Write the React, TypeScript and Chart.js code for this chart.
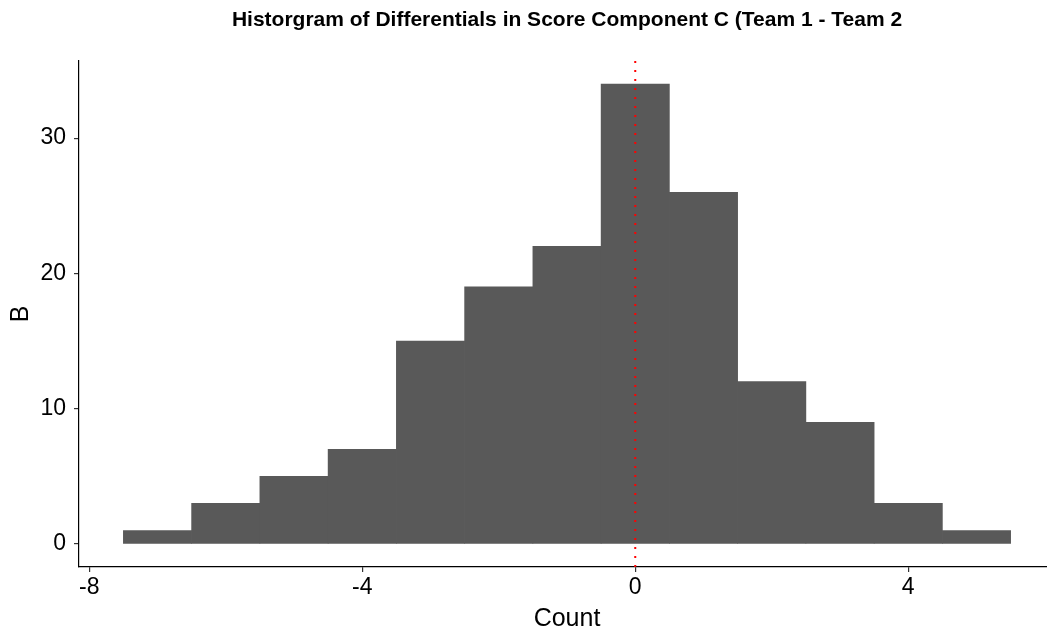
import React, { useEffect, useRef } from "react";
import { Chart, registerables } from "chart.js";

Chart.register(...registerables);

const binCenters = [-7, -6, -5, -4, -3, -2, -1, 0, 1, 2, 3, 4, 5];
const binCounts = [1, 3, 5, 7, 15, 19, 22, 34, 26, 12, 9, 3, 1];
const xTicks = [-8, -4, 0, 4];
const yTicks = [0, 10, 20, 30];
const refLineX = 0;
const titleText = "Historgram of Differentials in Score Component C (Team 1 - Team 2";
const xTitle = "Count";
const yTitle = "B";

const X_MIN = -8.15;
const X_MAX = 6.15;
const Y_MIN = -1.7;
const Y_MAX = 35.7;

const FONT = "'Liberation Sans', Arial, Helvetica, sans-serif";

const textPlugin = {
  id: "textPlugin",
  afterDraw(chart: any) {
    const { ctx, chartArea } = chart;
    const cx = (chartArea.left + chartArea.right) / 2;
    const cy = (chartArea.top + chartArea.bottom) / 2;
    ctx.save();
    ctx.fillStyle = "#000";
    ctx.textAlign = "center";
    ctx.textBaseline = "alphabetic";
    ctx.font = `bold 21px ${FONT}`;
    ctx.fillText(titleText, cx, 26);
    ctx.font = `25px ${FONT}`;
    ctx.fillText(xTitle, cx, 626);
    ctx.translate(28, cy);
    ctx.rotate(-Math.PI / 2);
    ctx.fillText(yTitle, 0, 0);
    ctx.restore();
  },
};

export default function App() {
  const ref = useRef<HTMLCanvasElement | null>(null);
  useEffect(() => {
    if (!ref.current) return;
    const chart = new Chart(ref.current, {
      type: "bar",
      data: {
        datasets: [
          {
            type: "line",
            data: [
              { x: refLineX, y: Y_MIN },
              { x: refLineX, y: Y_MAX },
            ],
            borderColor: "#FF0000",
            borderWidth: 2,
            borderDash: [2, 7],
            pointRadius: 0,
            order: 0,
          } as any,
          {
            type: "bar",
            data: binCenters.map((x, i) => ({ x, y: binCounts[i] })),
            backgroundColor: "#595959",
            borderWidth: 0,
            barPercentage: 1,
            categoryPercentage: 1,
            grouped: false,
            order: 1,
          } as any,
        ],
      },
      options: {
        animation: false,
        responsive: false,
        maintainAspectRatio: false,
        layout: { padding: { left: 0, top: 61, right: 5, bottom: 0 } },
        plugins: { legend: { display: false }, tooltip: { enabled: false }, title: { display: false } },
        scales: {
          x: {
            type: "linear",
            offset: false,
            min: X_MIN,
            max: X_MAX,
            afterBuildTicks: (s: any) => {
              s.ticks = xTicks.map((v) => ({ value: v }));
            },
            afterFit: (s: any) => {
              s.height = 67;
            },
            grid: { display: true, offset: false, drawOnChartArea: false, drawTicks: true, tickLength: 5, color: "#333", lineWidth: 1.2 },
            border: { display: true, color: "#000", width: 1.2 },
            ticks: { color: "#000", font: { family: FONT, size: 23 }, padding: 2, autoSkip: false, maxRotation: 0 },
          },
          y: {
            type: "linear",
            min: Y_MIN,
            max: Y_MAX,
            afterBuildTicks: (s: any) => {
              s.ticks = yTicks.map((v) => ({ value: v }));
            },
            afterFit: (s: any) => {
              s.width = 79;
            },
            grid: { display: true, drawOnChartArea: false, drawTicks: true, tickLength: 5, color: "#333", lineWidth: 1.2 },
            border: { display: true, color: "#000", width: 1.2 },
            ticks: { color: "#000", font: { family: FONT, size: 23 }, padding: 8 },
          },
        },
      },
      plugins: [textPlugin],
    });
    return () => chart.destroy();
  }, []);
  return (
    <div style={{ position: "fixed", left: 0, top: 0, width: 1047, height: 634, overflow: "hidden", background: "#fff" }}>
      <canvas ref={ref} width={1060} height={634} style={{ width: 1060, height: 634, display: "block" }} />
    </div>
  );
}
